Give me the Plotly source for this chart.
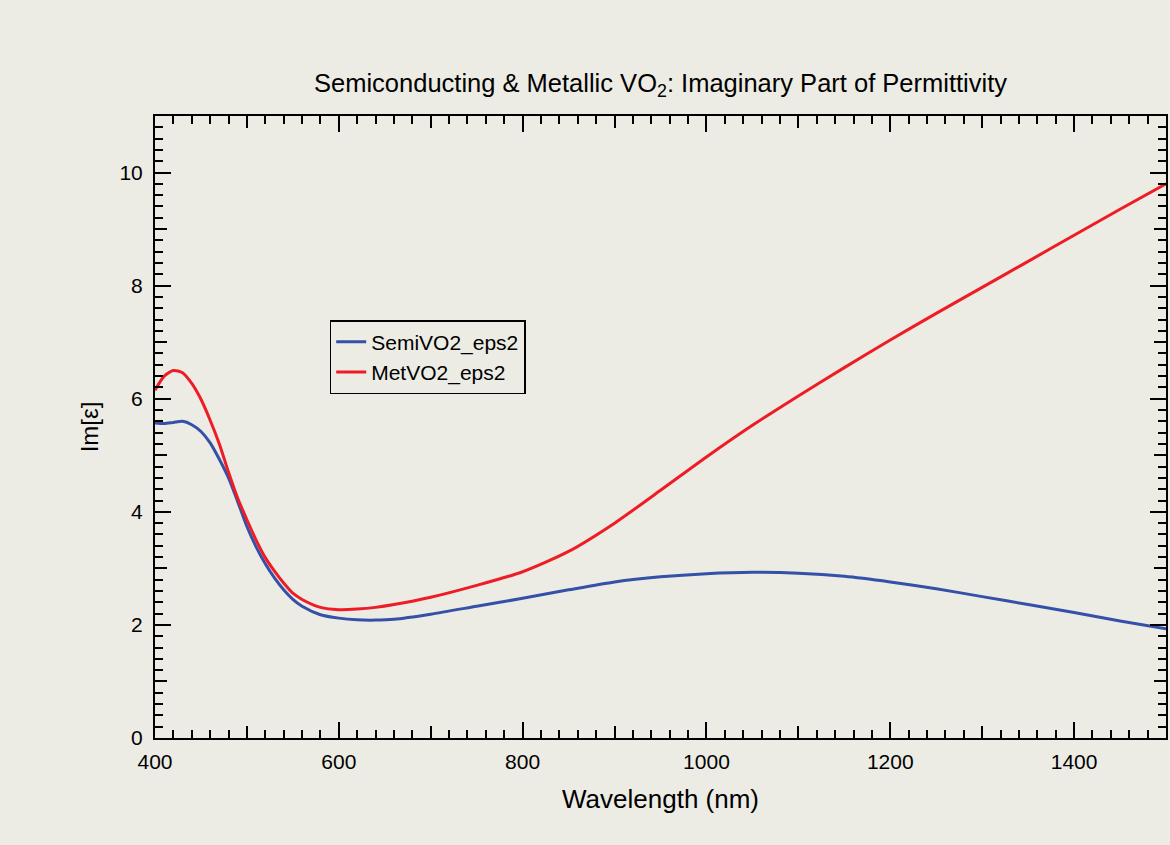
import plotly.graph_objects as go

# Wavelength grid (nm)
wavelength = [400, 410, 420, 430, 440, 450, 460, 470, 480, 490, 500, 510, 520, 530,
              540, 550, 560, 580, 600, 620, 640, 660, 700, 750, 800, 850, 900, 950,
              1000, 1050, 1100, 1150, 1200, 1250, 1300, 1350, 1400, 1450, 1500]

# Imaginary part of permittivity, semiconducting VO2
semi_eps2 = [5.57, 5.56, 5.58, 5.60, 5.54, 5.42, 5.22, 4.93, 4.60, 4.18, 3.74, 3.38, 3.08, 2.83,
             2.62, 2.45, 2.33, 2.18, 2.12, 2.09, 2.085, 2.10, 2.19, 2.33, 2.47, 2.62, 2.76, 2.85,
             2.905, 2.93, 2.915, 2.86, 2.76, 2.64, 2.50, 2.36, 2.22, 2.07, 1.93]

# Imaginary part of permittivity, metallic VO2
met_eps2 = [6.15, 6.40, 6.50, 6.46, 6.27, 5.99, 5.62, 5.20, 4.70, 4.24, 3.86, 3.50, 3.19, 2.95,
            2.74, 2.56, 2.45, 2.31, 2.27, 2.28, 2.31, 2.36, 2.49, 2.70, 2.94, 3.30, 3.80, 4.38,
            4.97, 5.53, 6.05, 6.55, 7.04, 7.51, 7.97, 8.43, 8.89, 9.35, 9.80]

BG = "#ECECE4"
FONT = "Liberation Sans, Arial, sans-serif"

fig = go.Figure()
fig.add_trace(go.Scatter(x=wavelength, y=semi_eps2, mode="lines", name="SemiVO2_eps2",
                         line=dict(color="#3450A8", width=3, shape="spline", smoothing=0.7)))
fig.add_trace(go.Scatter(x=wavelength, y=met_eps2, mode="lines", name="MetVO2_eps2",
                         line=dict(color="#EE1C25", width=3, shape="spline", smoothing=0.7)))
# empty trace that carries the secondary (mid-length tick) axes
fig.add_trace(go.Scatter(x=[None], y=[None], xaxis="x2", yaxis="y2", showlegend=False,
                         hoverinfo="skip"))

XR = [400, 1500]
YR = [0, 11]
common = dict(showgrid=False, zeroline=False, ticks="inside", tickcolor="black",
              tickwidth=2, mirror="allticks")

fig.update_layout(
    width=1170, height=845,
    paper_bgcolor=BG, plot_bgcolor=BG,
    margin=dict(l=155, r=2, t=116, b=107),
    font=dict(family=FONT, color="black", size=21),
    title=dict(text="Semiconducting &amp; Metallic VO<sub>2</sub>: Imaginary Part of Permittivity",
               x=0.5, xref="paper", xanchor="center", y=0.902, yanchor="middle",
               font=dict(size=25.5, family=FONT)),
    xaxis=dict(range=XR, dtick=200, tick0=400, ticklen=16, showline=True, linecolor="black",
               linewidth=2, minor=dict(dtick=20, ticklen=8, tickwidth=2, tickcolor="black",
                                        ticks="inside"),
               title=dict(text="Wavelength (nm)", font=dict(size=26), standoff=18),
               tickfont=dict(size=21), ticklabelstandoff=4, **common),
    yaxis=dict(range=YR, dtick=2, tick0=0, ticklen=16, showline=True, linecolor="black",
               linewidth=2, minor=dict(dtick=0.2, ticklen=8, tickwidth=2, tickcolor="black",
                                        ticks="inside"),
               title=dict(text="Im[ε]", font=dict(size=24), standoff=14),
               tickfont=dict(size=21), ticklabelstandoff=6, **common),
    xaxis2=dict(range=XR, overlaying="x", anchor="y2", side="bottom", dtick=100, tick0=400,
                ticklen=12, showticklabels=False, showline=False, **common),
    yaxis2=dict(range=YR, overlaying="y", anchor="x2", side="left", dtick=1, tick0=0,
                ticklen=12, showticklabels=False, showline=False, **common),
    legend=dict(x=0.1728, y=0.672, xanchor="left", yanchor="top", bgcolor=BG,
                bordercolor="black", borderwidth=1.5, font=dict(size=21, family=FONT),
                tracegroupgap=0),
    showlegend=True,
)

fig.write_html("out.html")
